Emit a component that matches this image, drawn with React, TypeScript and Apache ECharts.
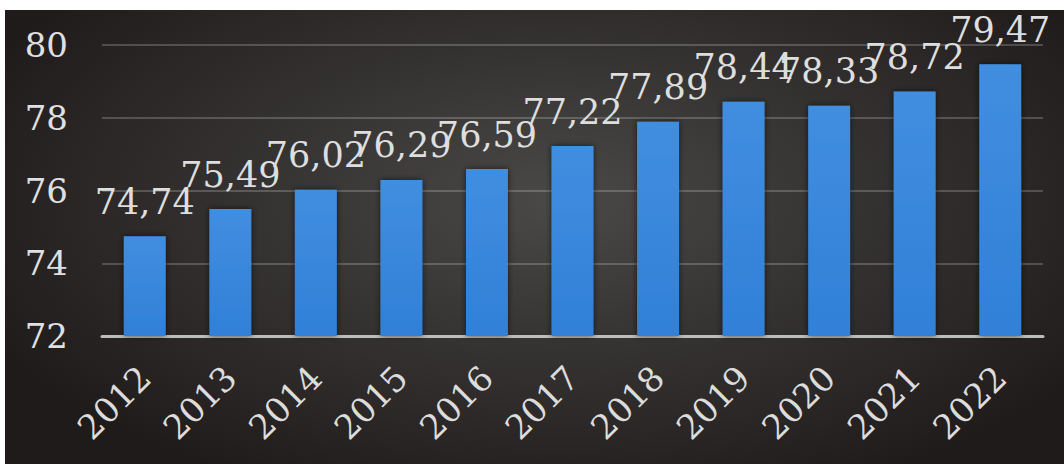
import React, { useEffect, useRef } from "react";
import * as echarts from "echarts";

const categories = ["2012", "2013", "2014", "2015", "2016", "2017", "2018", "2019", "2020", "2021", "2022"];
const values = [74.74, 75.49, 76.02, 76.29, 76.59, 77.22, 77.89, 78.44, 78.33, 78.72, 79.47];
const yMin = 72;
const yMax = 80;
const yInterval = 2;

const FONT = "'DejaVu Serif', serif";

export default function App() {
  const ref = useRef<HTMLDivElement>(null);
  useEffect(() => {
    document.body.style.margin = "0";
    if (!ref.current) return;
    const chart = echarts.init(ref.current, undefined, { renderer: "svg" });
    chart.setOption({
      animation: false,
      backgroundColor: "transparent",
      grid: { left: 97, right: 21, top: 35, bottom: 128, containLabel: false },
      xAxis: {
        type: "category",
        data: categories,
        axisLine: { show: true, lineStyle: { color: "#bdbdbd", width: 3 } },
        axisTick: { show: false },
        axisLabel: {
          rotate: 45,
          margin: 36,
          fontSize: 34,
          fontFamily: FONT,
          color: "#dcdcdc",
        },
      },
      yAxis: {
        type: "value",
        min: yMin,
        max: yMax,
        interval: yInterval,
        axisLine: { show: false },
        axisTick: { show: false },
        splitLine: { lineStyle: { color: "rgba(255,255,255,0.2)", width: 2 } },
        axisLabel: {
          margin: 34,
          fontSize: 34,
          fontFamily: FONT,
          color: "#e0e0e0",
        },
      },
      series: [
        {
          type: "bar",
          data: values,
          barWidth: "49%",
          itemStyle: {
            color: new echarts.graphic.LinearGradient(0, 0, 0, 1, [
              { offset: 0, color: "#418ee0" },
              { offset: 1, color: "#3080d8" },
            ]),
            shadowBlur: 6,
            shadowColor: "rgba(0,0,0,0.6)",
          },
          label: {
            show: true,
            position: "top",
            distance: 17,
            fontSize: 35,
            fontFamily: FONT,
            color: "#dedede",
            formatter: (p: any) => Number(p.value).toFixed(2).replace(".", ","),
          },
        },
      ],
    });
    return () => chart.dispose();
  }, []);
  return (
    <div style={{ position: "relative", width: 1064, height: 464, background: "#ffffff", overflow: "hidden" }}>
      <div
        style={{
          position: "absolute",
          left: 5,
          top: 10,
          width: 1059,
          height: 454,
          background: "radial-gradient(ellipse 60% 70% at 52% 42%, #4a4947 0%, #363432 45%, #1f1b1b 100%)",
        }}
      >
        <div ref={ref} style={{ width: 1059, height: 454 }} />
      </div>
    </div>
  );
}
